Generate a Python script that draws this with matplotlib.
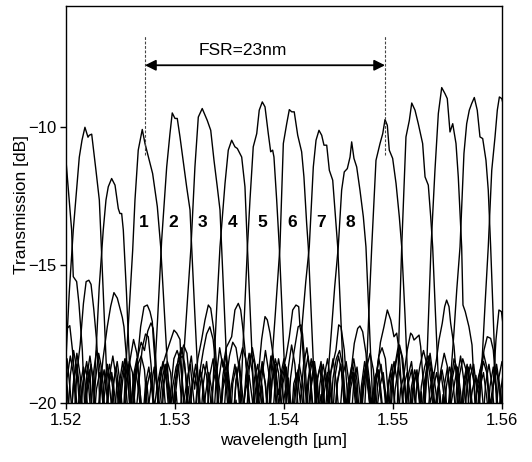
import numpy as np
import matplotlib.pyplot as plt

plt.rcParams['font.family'] = ['Liberation Sans', 'DejaVu Sans']

# transmission of the 8 output channels, (wavelength nm, dB)
ch1 = [(1519.5,-19.2),(1519.8,-20.6),(1520.1,-18.4),(1520.4,-19.6),(1520.7,-21),(1521.0,-18.9),(1521.3,-17.9),
       (1521.6,-16.4),(1521.85,-15.6),(1522.1,-15.55),(1522.3,-15.7),(1522.55,-16.6),(1522.8,-17.7),(1523.0,-19.0),
       (1523.2,-21),(1523.5,-19.3),(1523.8,-18.6),(1524.1,-19.8),(1524.4,-21),(1524.7,-19.1),(1525.0,-20.2),
       (1525.2,-21),(1525.45,-19.0),(1525.8,-16.6),(1526.12,-14.46),(1526.33,-12.64),(1526.63,-10.83),(1527.0,-10.08),
       (1527.25,-10.59),(1527.95,-11.68),(1528.38,-12.88),(1528.69,-14.34),(1529.1,-17.2),(1529.5,-20.0),(1529.7,-21),
       (1530.0,-19.4),(1530.3,-18.6),(1530.6,-19.9),(1530.9,-21),(1531.2,-19.0),(1531.5,-18.3),(1531.8,-19.5),
       (1532.1,-18.4),(1532.45,-17.7),(1532.75,-17.0),(1533.06,-16.45),(1533.28,-16.57),(1533.52,-17.24),(1533.67,-17.8),
       (1533.9,-19.2),(1534.1,-21),(1534.4,-19.0),(1534.7,-18.2),(1535.0,-19.3),(1535.3,-20.8),(1535.6,-19.2),
       (1535.9,-18.5),(1536.2,-19.7),(1536.5,-21),(1536.8,-18.8),(1537.1,-18.0),(1537.4,-18.7),(1537.7,-20.3),
       (1538.0,-19.0),(1538.3,-18.1),(1538.6,-18.9),(1538.9,-21),(1539.2,-19.2),(1539.5,-18.4),(1539.8,-19.1),
       (1540.1,-20.6),(1540.4,-18.7),(1540.7,-17.9),(1541.0,-18.6),(1541.3,-20.2),(1541.6,-21),(1541.9,-19.0),
       (1542.2,-18.3),(1542.5,-19.4),(1542.8,-20.9),(1543.1,-19.1),(1543.4,-18.5),(1543.7,-19.9),(1544.0,-21),
       (1544.3,-18.9),(1544.77,-18.08),(1545.02,-17.17),(1545.23,-17.24),(1545.53,-18.08),(1545.8,-19.6),(1546.1,-21),
       (1546.4,-19.3),(1546.7,-18.7),(1547.0,-19.8),(1547.3,-21),(1547.55,-19.0),(1547.8,-16.6),(1548.05,-14.34),
       (1548.44,-11.2),(1548.81,-10.59),(1549.06,-10.23),(1549.27,-9.72),(1549.48,-9.93),(1549.66,-10.83),
       (1549.97,-11.13),(1550.28,-12.04),(1550.58,-13.25),(1550.80,-14.34),(1551.1,-16.8),(1551.4,-19.6),(1551.6,-21),
       (1551.9,-19.4),(1552.2,-18.8),(1552.5,-20.1),(1552.8,-21),(1553.1,-19.0),(1553.4,-18.2),(1553.7,-19.1),
       (1554.0,-18.4),(1554.22,-17.72),(1554.52,-17.11),(1554.74,-16.51),(1554.92,-16.27),(1555.14,-16.51),
       (1555.29,-17.11),(1555.6,-17.96),(1555.9,-19.5),(1556.2,-21),(1556.5,-19.2),(1556.8,-18.6),(1557.1,-19.7),
       (1557.4,-21),(1557.7,-19.3),(1558.0,-18.8),(1558.3,-20.2),(1558.6,-21),(1558.9,-19.4),(1559.2,-18.7),
       (1559.5,-19.6),(1559.8,-21),(1560.1,-19.2),(1560.4,-18.9)]

ch2 = [(1519.5,-20.4),(1519.8,-18.7),(1520.1,-19.5),(1520.4,-21),(1520.7,-19.3),(1521.0,-18.2),(1521.3,-19.0),
       (1521.6,-20.7),(1521.9,-19.1),(1522.2,-18.3),(1522.5,-19.2),(1522.8,-21),(1523.1,-19.6),(1523.4,-18.4),
       (1523.79,-17.24),(1524.1,-16.5),(1524.40,-16.0),(1524.71,-16.2),(1525.17,-16.9),(1525.32,-17.24),(1525.6,-18.6),
       (1525.9,-20.4),(1526.2,-19.0),(1526.5,-18.4),(1526.8,-19.6),(1527.1,-21),(1527.4,-19.2),(1527.7,-20.5),
       (1527.85,-21),(1528.1,-19.2),(1528.4,-17.0),(1528.78,-14.09),(1529.24,-11.44),(1529.54,-10.23),(1529.75,-9.48),
       (1530.0,-9.68),(1530.21,-9.68),(1530.46,-10.35),(1531.07,-12.16),(1531.38,-13.0),(1531.53,-14.34),(1531.8,-16.6),
       (1532.1,-19.0),(1532.3,-21),(1532.6,-19.3),(1532.9,-18.5),(1533.2,-19.6),(1533.5,-21),(1533.8,-19.0),
       (1534.1,-18.0),(1534.4,-18.7),(1534.7,-18.0),(1535.2,-17.6),(1535.5,-16.63),(1535.81,-16.39),(1536.03,-16.63),
       (1536.21,-17.24),(1536.42,-18.08),(1536.7,-19.6),(1537.0,-21),(1537.3,-19.1),(1537.6,-18.6),(1537.9,-19.8),
       (1538.2,-21),(1538.5,-19.4),(1538.8,-18.3),(1539.1,-19.2),(1539.4,-20.7),(1539.7,-19.0),(1540.0,-18.4),
       (1540.3,-19.5),(1540.6,-21),(1540.9,-19.3),(1541.2,-18.9),(1541.5,-20.0),(1541.8,-18.6),(1542.1,-18.0),
       (1542.4,-18.9),(1542.7,-20.8),(1543.0,-19.2),(1543.3,-18.7),(1543.6,-19.9),(1543.9,-21),(1544.2,-19.1),
       (1544.5,-18.4),(1544.8,-19.3),(1545.1,-20.6),(1545.4,-19.0),(1545.7,-18.5),(1546.0,-19.4),(1546.45,-17.84),
       (1546.76,-17.3),(1546.97,-17.21),(1547.22,-17.42),(1547.52,-18.2),(1547.8,-19.7),(1548.1,-21),(1548.4,-19.3),
       (1548.7,-18.8),(1549.0,-20.0),(1549.3,-21),(1549.6,-19.2),(1549.9,-18.6),(1550.2,-20.4),(1550.35,-21),
       (1550.55,-17.5),(1550.80,-14.34),(1551.19,-10.35),(1551.50,-9.75),(1551.72,-9.12),(1552.02,-9.38),
       (1552.32,-9.87),(1552.72,-10.59),(1552.94,-11.8),(1553.24,-12.1),(1553.46,-13.25),(1553.64,-14.34),
       (1553.9,-16.8),(1554.2,-19.5),(1554.4,-21),(1554.7,-19.4),(1555.0,-18.7),(1555.3,-19.9),(1555.6,-21),
       (1555.9,-19.1),(1556.2,-18.3),(1556.5,-19.2),(1556.8,-20.6),(1557.1,-19.0),(1557.4,-18.6),(1557.7,-19.6),
       (1558.0,-19.2),(1558.35,-18.08),(1558.65,-17.6),(1558.96,-17.66),(1559.2,-18.08),(1559.5,-19.6),(1559.8,-21),
       (1560.1,-19.3),(1560.4,-18.8)]

ch3 = [(1519.5,-18.6),(1519.8,-19.7),(1520.1,-21),(1520.4,-19.0),(1520.7,-18.1),(1521.0,-18.8),(1521.3,-20.4),
       (1521.6,-19.2),(1521.9,-18.5),(1522.2,-19.3),(1522.5,-21),(1522.8,-19.5),(1523.1,-18.9),(1523.4,-19.8),
       (1523.7,-21),(1524.0,-19.0),(1524.3,-18.3),(1524.6,-19.1),(1524.9,-20.5),(1525.2,-19.2),(1525.5,-18.4),
       (1525.8,-19.0),(1526.1,-20.8),(1526.4,-19.1),(1526.85,-17.24),(1527.16,-16.51),(1527.46,-16.45),(1527.71,-16.69),
       (1527.92,-17.05),(1528.0,-17.6),(1528.3,-19.2),(1528.6,-21),(1528.9,-19.4),(1529.2,-18.6),(1529.5,-19.5),
       (1529.8,-21),(1530.1,-19.6),(1530.4,-21),(1530.75,-18.6),(1531.1,-16.5),(1531.47,-14.34),(1531.83,-11.44),
       (1532.14,-9.63),(1532.5,-9.32),(1532.96,-9.75),(1533.28,-10.11),(1533.58,-11.2),(1533.88,-12.16),(1534.13,-13.0),
       (1534.28,-14.34),(1534.55,-16.8),(1534.85,-19.5),(1535.05,-21),(1535.3,-19.3),(1535.6,-18.7),(1535.9,-19.6),
       (1536.2,-21),(1536.5,-19.0),(1536.8,-18.2),(1537.1,-18.9),(1537.4,-20.6),(1537.7,-19.3),(1538.0,-18.5),
       (1538.3,-19.4),(1538.6,-21),(1538.9,-19.2),(1539.2,-18.6),(1539.5,-19.7),(1539.8,-19.0),(1540.2,-18.3),
       (1540.49,-17.6),(1540.80,-16.63),(1541.10,-16.45),(1541.35,-16.51),(1541.47,-17.24),(1541.65,-17.6),
       (1541.9,-19.1),(1542.2,-21),(1542.5,-19.4),(1542.8,-18.7),(1543.1,-19.8),(1543.4,-21),(1543.7,-19.0),
       (1544.0,-18.4),(1544.3,-19.3),(1544.6,-20.9),(1544.9,-19.2),(1545.2,-18.6),(1545.5,-19.7),(1545.8,-21),
       (1546.1,-19.5),(1546.4,-18.9),(1546.7,-20.1),(1547.0,-21),(1547.3,-19.1),(1547.6,-18.4),(1547.9,-19.4),
       (1548.2,-20.6),(1548.5,-19.0),(1548.85,-17.8),(1549.17,-17.24),(1549.48,-16.63),(1549.79,-16.99),(1550.09,-17.6),
       (1550.34,-17.47),(1550.55,-18.08),(1550.8,-19.6),(1551.1,-21),(1551.4,-19.3),(1551.7,-18.8),(1552.0,-19.9),
       (1552.3,-21),(1552.6,-19.6),(1552.8,-21),(1553.1,-18.6),(1553.49,-14.34),(1553.85,-11.56),(1554.16,-9.5),
       (1554.47,-8.56),(1554.77,-8.78),(1554.98,-8.96),(1555.23,-10.17),(1555.48,-9.87),(1555.78,-10.59),
       (1555.99,-11.8),(1556.30,-14.34),(1556.42,-16.45),(1556.63,-16.69),(1556.97,-17.24),(1557.25,-17.9),
       (1557.52,-20.0),(1557.7,-21),(1558.0,-19.4),(1558.3,-18.9),(1558.6,-19.8),(1558.9,-21),(1559.2,-19.3),
       (1559.45,-17.7),(1559.72,-16.63),(1559.95,-16.69),(1560.2,-17.5),(1560.5,-18.6)]

ch4 = [(1519.5,-19.8),(1519.8,-21),(1520.1,-19.1),(1520.4,-18.3),(1520.7,-19.0),(1521.0,-20.7),(1521.3,-19.4),
       (1521.6,-18.7),(1521.9,-19.8),(1522.2,-21),(1522.5,-19.0),(1522.8,-18.1),(1523.1,-18.7),(1523.4,-20.1),
       (1523.7,-19.2),(1524.0,-18.6),(1524.3,-19.5),(1524.6,-21),(1524.9,-19.3),(1525.2,-18.5),(1525.5,-19.4),
       (1525.8,-21),(1526.1,-19.6),(1526.4,-18.8),(1526.7,-19.7),(1527.0,-20.9),(1527.3,-19.3),(1527.6,-18.7),
       (1527.9,-19.6),(1528.2,-21),(1528.5,-19.5),(1528.9,-18.6),(1529.2,-18.2),(1529.70,-17.6),(1529.91,-17.36),
       (1530.16,-17.47),(1530.46,-17.7),(1530.61,-18.9),(1530.9,-20.3),(1531.2,-19.4),(1531.5,-20.6),(1531.8,-21),
       (1532.1,-19.3),(1532.4,-18.9),(1532.7,-20.2),(1533.0,-21),(1533.3,-21),(1533.55,-18.8),(1533.85,-16.4),
       (1534.13,-14.34),(1534.59,-12.04),(1534.89,-10.83),(1535.2,-10.47),(1535.5,-10.71),(1535.72,-10.77),
       (1536.12,-11.08),(1536.42,-12.16),(1536.58,-13.73),(1536.85,-16.2),(1537.15,-19.0),(1537.35,-21),
       (1537.6,-19.2),(1537.95,-17.7),(1538.26,-16.87),(1538.47,-16.99),(1538.72,-17.47),(1539.02,-18.32),
       (1539.3,-19.8),(1539.6,-21),(1539.9,-19.3),(1540.2,-18.7),(1540.5,-19.6),(1540.8,-21),(1541.1,-19.4),
       (1541.4,-18.6),(1541.7,-19.3),(1542.0,-20.8),(1542.3,-19.1),(1542.6,-18.5),(1542.9,-19.6),(1543.2,-21),
       (1543.5,-19.5),(1543.8,-18.8),(1544.1,-19.7),(1544.4,-21),(1544.7,-19.0),(1545.0,-18.3),(1545.3,-18.9),
       (1545.6,-20.5),(1545.9,-19.3),(1546.2,-18.7),(1546.5,-19.8),(1546.8,-21),(1547.1,-19.4),(1547.4,-18.5),
       (1547.7,-19.2),(1548.0,-20.7),(1548.3,-19.1),(1548.6,-18.8),(1548.9,-19.9),(1549.2,-21),(1549.5,-19.6),
       (1549.8,-18.9),(1550.1,-19.7),(1550.4,-21),(1550.7,-19.5),(1551.0,-19.0),(1551.31,-18.08),(1551.62,-17.47),
       (1551.77,-17.54),(1551.93,-17.72),(1552.23,-17.6),(1552.39,-17.54),(1552.54,-17.96),(1552.8,-19.4),
       (1553.1,-21),(1553.4,-19.5),(1553.7,-18.9),(1554.0,-19.8),(1554.3,-21),(1554.6,-19.7),(1554.9,-21),
       (1555.25,-19.3),(1555.6,-17.4),(1555.85,-15.9),(1556.15,-14.34),(1556.51,-10.95),(1556.76,-9.87),
       (1557.0,-9.38),(1557.22,-9.14),(1557.46,-8.92),(1557.73,-9.38),(1557.98,-10.35),(1558.23,-10.41),
       (1558.53,-11.2),(1558.74,-12.28),(1558.96,-14.34),(1559.2,-16.9),(1559.45,-19.6),(1559.6,-21),
       (1559.9,-19.5),(1560.2,-18.7),(1560.5,-19.4)]

ch5 = [(1519.5,-18.9),(1519.8,-18.0),(1520.1,-17.3),(1520.35,-17.2),(1520.6,-18.1),(1520.9,-19.6),(1521.2,-21),
       (1521.5,-19.4),(1521.8,-18.7),(1522.1,-19.5),(1522.4,-21),(1522.7,-19.2),(1523.0,-18.2),(1523.3,-18.8),
       (1523.6,-20.5),(1523.9,-19.4),(1524.2,-18.9),(1524.5,-19.8),(1524.8,-21),(1525.1,-19.1),(1525.4,-18.4),
       (1525.7,-19.3),(1526.0,-20.8),(1526.3,-19.0),(1526.6,-18.3),(1526.9,-17.8),(1527.2,-18.1),(1527.5,-17.4),
       (1527.8,-17.1),(1528.0,-17.3),(1528.25,-18.5),(1528.5,-20.4),(1528.8,-19.2),(1529.1,-18.6),(1529.4,-19.7),
       (1529.7,-21),(1530.0,-19.3),(1530.3,-18.4),(1530.6,-18.0),(1530.9,-18.6),(1531.2,-20.2),(1531.5,-19.5),
       (1531.8,-18.9),(1532.1,-19.6),(1532.35,-18.7),(1532.6,-18.1),(1532.9,-17.5),(1533.2,-17.24),(1533.5,-17.7),
       (1533.8,-18.9),(1534.1,-20.6),(1534.4,-19.3),(1534.7,-18.6),(1535.0,-19.5),(1535.3,-21),(1535.6,-19.9),
       (1535.85,-21),(1536.1,-19.2),(1536.4,-16.5),(1536.65,-14.34),(1536.88,-12.64),(1537.18,-10.71),(1537.50,-10.23),
       (1537.73,-9.38),(1538.01,-9.08),(1538.26,-9.26),(1538.56,-10.23),(1538.78,-10.89),(1538.96,-10.83),
       (1539.08,-11.08),(1539.33,-12.64),(1539.57,-14.34),(1539.85,-16.9),(1540.15,-19.6),(1540.3,-21),
       (1540.6,-19.1),(1540.9,-18.2),(1541.3,-17.24),(1541.56,-17.17),(1541.7,-17.5),(1541.95,-18.7),(1542.2,-20.4),
       (1542.5,-19.2),(1542.8,-18.5),(1543.1,-19.4),(1543.4,-21),(1543.7,-19.6),(1544.0,-18.9),(1544.3,-19.8),
       (1544.6,-21),(1544.9,-19.3),(1545.2,-18.6),(1545.5,-19.5),(1545.8,-20.7),(1546.1,-19.0),(1546.4,-18.4),
       (1546.7,-19.2),(1547.0,-21),(1547.3,-19.5),(1547.6,-18.7),(1547.9,-18.2),(1548.2,-18.8),(1548.5,-20.3),
       (1548.8,-19.4),(1549.1,-18.9),(1549.4,-19.9),(1549.7,-21),(1550.0,-19.2),(1550.3,-18.5),(1550.6,-17.9),
       (1550.9,-18.4),(1551.2,-19.8),(1551.5,-21),(1551.8,-19.5),(1552.1,-18.9),(1552.4,-19.7),(1552.7,-21),
       (1553.0,-19.1),(1553.3,-18.3),(1553.6,-18.9),(1553.9,-20.5),(1554.2,-19.4),(1554.5,-18.8),(1554.8,-19.5),
       (1555.1,-21),(1555.4,-19.2),(1555.7,-18.6),(1556.0,-19.3),(1556.3,-20.8),(1556.6,-19.4),(1556.9,-18.7),
       (1557.2,-19.8),(1557.5,-21),(1557.8,-21),(1558.1,-19.0),(1558.45,-16.4),(1558.74,-14.34),(1559.06,-11.56),
       (1559.36,-10.35),(1559.57,-9.38),(1559.76,-8.9),(1559.98,-8.96),(1560.2,-9.3),(1560.5,-10.2)]

ch6 = [(1519.0,-10.9),(1519.5,-10.8),(1519.8,-10.9),(1520.0,-11.2),(1520.25,-12.4),(1520.52,-13.73),(1520.67,-15.42),
       (1520.98,-15.6),(1521.19,-16.39),(1521.5,-18.08),(1521.75,-20.5),(1522.0,-19.3),(1522.3,-18.6),(1522.6,-19.7),
       (1522.9,-21),(1523.2,-19.4),(1523.5,-18.8),(1523.8,-19.9),(1524.1,-21),(1524.4,-19.2),(1524.7,-18.5),
       (1525.0,-19.4),(1525.3,-20.9),(1525.6,-19.3),(1525.9,-18.4),(1526.2,-17.7),(1526.5,-18.2),(1526.8,-19.6),
       (1527.1,-21),(1527.4,-19.5),(1527.7,-18.9),(1528.0,-19.8),(1528.3,-21),(1528.6,-19.1),(1528.9,-18.5),
       (1529.2,-19.2),(1529.5,-20.6),(1529.8,-19.4),(1530.1,-18.7),(1530.4,-18.4),(1530.7,-18.3),(1531.0,-19.0),
       (1531.3,-20.7),(1531.6,-19.3),(1531.9,-18.6),(1532.2,-19.5),(1532.5,-21),(1532.8,-19.7),(1533.1,-18.9),
       (1533.4,-19.6),(1533.7,-21),(1534.0,-19.2),(1534.3,-18.4),(1534.6,-18.9),(1534.9,-20.4),(1535.2,-19.3),
       (1535.5,-18.6),(1535.8,-19.5),(1536.1,-21),(1536.4,-19.6),(1536.7,-18.8),(1537.0,-18.2),(1537.3,-18.6),
       (1537.6,-20.0),(1537.9,-19.4),(1538.2,-20.5),(1538.5,-21),(1538.8,-19.0),(1539.2,-16.8),(1539.63,-14.34),
       (1539.94,-10.59),(1540.25,-9.87),(1540.49,-9.36),(1540.71,-9.44),(1540.94,-9.44),(1541.26,-10.29),
       (1541.62,-10.89),(1541.83,-11.8),(1542.08,-13.49),(1542.23,-14.34),(1542.5,-16.8),(1542.8,-19.5),(1543.0,-21),
       (1543.3,-19.3),(1543.6,-18.6),(1543.9,-19.4),(1544.2,-20.8),(1544.5,-19.1),(1544.8,-18.4),(1545.1,-18.1),
       (1545.4,-18.7),(1545.7,-20.2),(1546.0,-19.4),(1546.3,-18.9),(1546.6,-19.8),(1546.9,-21),(1547.2,-19.5),
       (1547.5,-18.7),(1547.8,-19.3),(1548.1,-20.6),(1548.4,-19.2),(1548.7,-18.4),(1549.0,-19.0),(1549.3,-19.7),
       (1549.6,-21),(1549.9,-19.3),(1550.2,-18.6),(1550.5,-17.9),(1550.8,-18.3),(1551.1,-19.6),(1551.4,-21),
       (1551.7,-19.4),(1552.0,-18.8),(1552.3,-19.5),(1552.6,-20.7),(1552.9,-19.2),(1553.2,-18.5),(1553.5,-19.3),
       (1553.8,-21),(1554.1,-19.6),(1554.4,-18.8),(1554.7,-18.2),(1555.0,-18.7),(1555.3,-20.1),(1555.6,-19.4),
       (1555.9,-18.7),(1556.2,-19.6),(1556.5,-21),(1556.8,-19.3),(1557.1,-18.6),(1557.4,-19.2),(1557.7,-20.5),
       (1558.0,-19.1),(1558.3,-18.5),(1558.6,-18.9),(1558.9,-20.6),(1559.2,-19.4),(1559.5,-18.8),(1559.8,-19.7),
       (1560.1,-21),(1560.4,-19.4)]

ch7 = [(1519.7,-21),(1519.95,-18.8),(1520.3,-16.0),(1520.67,-13.73),(1521.22,-11.09),(1521.47,-10.47),(1521.74,-10.0),
       (1522.02,-10.36),(1522.14,-10.29),(1522.36,-10.25),(1522.50,-10.72),(1522.75,-11.56),(1523.06,-12.64),
       (1523.18,-13.73),(1523.45,-16.3),(1523.75,-19.2),(1523.95,-21),(1524.3,-19.4),(1524.6,-18.7),(1524.9,-19.6),
       (1525.2,-21),(1525.5,-19.3),(1525.8,-18.5),(1526.1,-18.9),(1526.4,-20.5),(1526.7,-19.2),(1527.0,-18.0),
       (1527.3,-17.5),(1527.55,-17.6),(1527.8,-18.6),(1528.1,-20.2),(1528.4,-19.3),(1528.7,-18.7),(1529.0,-19.5),
       (1529.3,-21),(1529.6,-19.6),(1529.9,-18.4),(1530.2,-18.1),(1530.5,-18.5),(1530.8,-20.0),(1531.1,-19.2),
       (1531.4,-18.6),(1531.7,-19.8),(1532.0,-21),(1532.3,-19.4),(1532.6,-18.6),(1532.9,-19.0),(1533.2,-20.7),
       (1533.5,-19.3),(1533.8,-18.7),(1534.1,-19.5),(1534.4,-21),(1534.7,-19.2),(1535.0,-18.3),(1535.3,-17.8),
       (1535.6,-18.0),(1535.9,-18.8),(1536.2,-20.3),(1536.5,-19.5),(1536.8,-19.0),(1537.1,-19.9),(1537.4,-21),
       (1537.7,-19.4),(1538.0,-18.7),(1538.3,-19.3),(1538.6,-20.8),(1538.9,-19.2),(1539.2,-18.4),(1539.5,-18.9),
       (1539.8,-20.4),(1540.1,-19.6),(1540.4,-19.1),(1540.7,-20.3),(1541.0,-21),(1541.3,-19.3),(1541.7,-17.0),
       (1542.0,-15.6),(1542.32,-14.34),(1542.69,-11.44),(1542.94,-10.47),(1543.21,-10.11),(1543.46,-10.29),
       (1543.67,-10.65),(1543.92,-10.65),(1544.16,-11.56),(1544.47,-11.92),(1544.77,-13.49),(1544.93,-14.34),
       (1545.2,-16.8),(1545.5,-19.5),(1545.7,-21),(1546.0,-19.3),(1546.3,-18.6),(1546.6,-19.3),(1546.9,-20.8),
       (1547.2,-19.4),(1547.5,-18.9),(1547.8,-19.8),(1548.1,-21),(1548.4,-19.2),(1548.7,-18.3),(1549.0,-18.0),
       (1549.3,-18.4),(1549.6,-19.9),(1549.9,-21),(1550.2,-19.5),(1550.5,-18.7),(1550.8,-19.4),(1551.1,-20.6),
       (1551.4,-19.0),(1551.7,-18.5),(1552.0,-19.6),(1552.3,-21),(1552.6,-19.4),(1552.9,-18.7),(1553.2,-18.3),
       (1553.5,-18.9),(1553.8,-20.3),(1554.1,-19.5),(1554.4,-18.9),(1554.7,-19.8),(1555.0,-21),(1555.3,-19.3),
       (1555.6,-18.4),(1555.9,-18.8),(1556.2,-20.2),(1556.5,-19.4),(1556.8,-18.7),(1557.1,-19.5),(1557.4,-21),
       (1557.7,-19.6),(1558.0,-18.8),(1558.3,-18.2),(1558.6,-18.7),(1558.9,-20.1),(1559.2,-19.3),(1559.5,-18.6),
       (1559.8,-19.4),(1560.1,-20.9),(1560.4,-19.2)]

ch8 = [(1519.5,-19.3),(1519.8,-18.5),(1520.1,-19.4),(1520.4,-20.9),(1520.7,-19.2),(1521.0,-18.6),(1521.3,-19.7),
       (1521.6,-21),(1521.9,-19.5),(1522.2,-18.8),(1522.45,-21),(1522.7,-18.6),(1523.05,-15.8),(1523.42,-13.73),
       (1523.67,-12.64),(1523.88,-12.16),(1524.19,-11.86),(1524.50,-12.1),(1524.80,-12.95),(1524.95,-13.13),
       (1525.11,-13.13),(1525.26,-13.73),(1525.55,-16.0),(1525.85,-18.8),(1526.05,-21),(1526.3,-19.4),(1526.6,-18.6),
       (1526.9,-18.3),(1527.2,-18.8),(1527.5,-20.4),(1527.8,-19.4),(1528.1,-18.7),(1528.4,-19.6),(1528.7,-21),
       (1529.0,-19.3),(1529.3,-18.5),(1529.6,-18.9),(1529.9,-20.3),(1530.2,-19.1),(1530.5,-18.3),(1530.8,-17.9),
       (1531.1,-18.2),(1531.4,-19.5),(1531.7,-21),(1532.0,-19.6),(1532.3,-18.8),(1532.6,-19.4),(1532.9,-20.6),
       (1533.2,-19.0),(1533.5,-18.4),(1533.8,-19.3),(1534.1,-21),(1534.4,-19.5),(1534.7,-18.9),(1535.0,-19.7),
       (1535.3,-21),(1535.6,-19.2),(1535.9,-18.5),(1536.2,-18.0),(1536.5,-18.4),(1536.8,-19.8),(1537.1,-21),
       (1537.4,-19.5),(1537.7,-18.8),(1538.0,-19.4),(1538.3,-20.8),(1538.6,-19.1),(1538.9,-18.3),(1539.2,-18.7),
       (1539.5,-20.1),(1539.8,-19.3),(1540.1,-18.6),(1540.4,-19.5),(1540.7,-21),(1541.0,-19.4),(1541.3,-18.8),
       (1541.6,-19.6),(1541.9,-20.9),(1542.2,-19.2),(1542.5,-18.4),(1542.8,-18.9),(1543.1,-20.5),(1543.4,-19.7),
       (1543.7,-21),(1544.0,-19.2),(1544.35,-17.4),(1544.65,-15.8),(1544.98,-14.34),(1545.29,-12.28),(1545.53,-11.62),
       (1545.81,-11.5),(1546.06,-11.08),(1546.21,-10.53),(1546.42,-11.13),(1546.67,-11.44),(1546.97,-12.28),
       (1547.28,-13.25),(1547.52,-14.34),(1547.8,-16.9),(1548.1,-19.6),(1548.3,-21),(1548.6,-19.3),(1548.9,-18.6),
       (1549.2,-19.5),(1549.5,-21),(1549.8,-19.2),(1550.1,-18.5),(1550.4,-19.3),(1550.7,-20.7),(1551.0,-19.4),
       (1551.3,-18.9),(1551.6,-19.8),(1551.9,-21),(1552.2,-19.3),(1552.5,-18.6),(1552.8,-18.1),(1553.1,-18.6),
       (1553.4,-20.0),(1553.7,-19.5),(1554.0,-18.9),(1554.3,-19.6),(1554.6,-21),(1554.9,-19.4),(1555.2,-18.7),
       (1555.5,-19.2),(1555.8,-20.6),(1556.1,-19.0),(1556.4,-18.4),(1556.7,-18.8),(1557.0,-20.3),(1557.3,-19.5),
       (1557.6,-19.0),(1557.9,-19.8),(1558.2,-21),(1558.5,-19.3),(1558.8,-18.6),(1559.1,-19.4),(1559.4,-20.8),
       (1559.7,-19.1),(1560.0,-18.5),(1560.3,-19.3)]

channels = [ch1, ch2, ch3, ch4, ch5, ch6, ch7, ch8]

# channel numbers written under the peaks
label_ids = ['1', '2', '3', '4', '5', '6', '7', '8']
label_wl = [1527.16, 1529.84, 1532.54, 1535.29, 1538.01, 1540.71, 1543.37, 1546.12]
label_db = -13.47

# free spectral range marker
fsr_start, fsr_end = 1527.25, 1549.27
fsr_text = 'FSR=23nm'

fig = plt.figure(figsize=(5.32, 4.62), dpi=100)
ax = fig.add_axes([0.124, 0.128, 0.8196, 0.859])

for ch in channels:
    wl, db = zip(*ch)
    ax.plot(np.array(wl) / 1000, db, color='black', lw=1.0)

for lab, w in zip(label_ids, label_wl):
    ax.text(w / 1000, label_db, lab, ha='center', va='center',
            fontsize=12.5, fontweight='bold', color='black')

for w in (fsr_start, fsr_end):
    ax.plot([w / 1000, w / 1000], [-11.0, -6.65], color='#444444', lw=0.8,
            linestyle=(0, (2.5, 1.5)))
ax.annotate('', xy=(fsr_end / 1000, -7.75), xytext=(fsr_start / 1000, -7.75),
            arrowprops=dict(arrowstyle='<|-|>', color='black', lw=1.3,
                            mutation_scale=16, shrinkA=0, shrinkB=0))
ax.text(1.5362, -7.2, fsr_text, ha='center', va='center', fontsize=12.5)

ax.set_xlim(1.52, 1.56)
ax.set_ylim(-20, -5.6)
ax.set_xticks([1.52, 1.53, 1.54, 1.55, 1.56])
ax.set_xticklabels(['1.52', '1.53', '1.54', '1.55', '1.56'])
ax.set_yticks([-10, -15, -20])
ax.tick_params(direction='out', length=4, width=1, labelsize=12, pad=3)
for s in ax.spines.values():
    s.set_linewidth(1.0)
ax.set_xlabel('wavelength [\u00b5m]', fontsize=12.5, labelpad=4)
ax.set_ylabel('Transmission [dB]', fontsize=12.5, labelpad=-1)

fig.savefig('out.png', dpi=100)
